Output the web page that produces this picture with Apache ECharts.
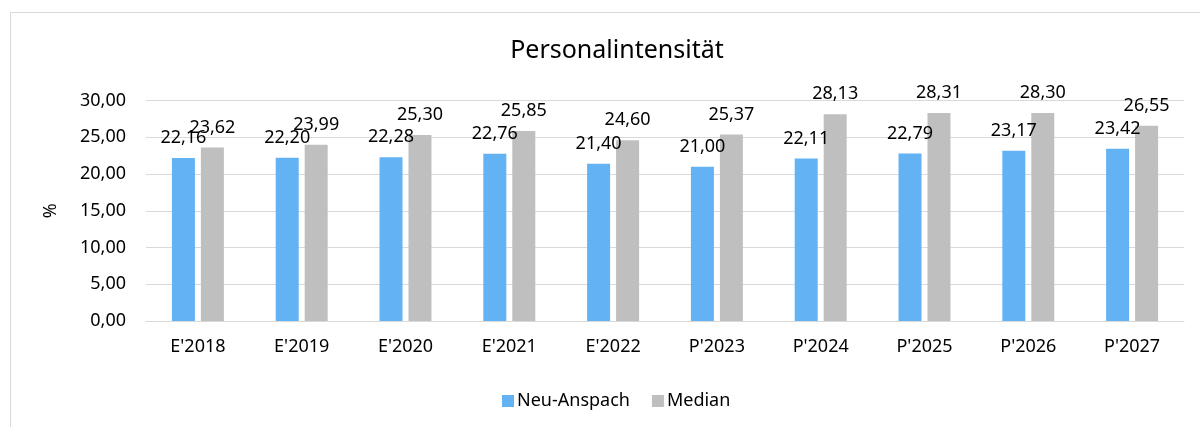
<!DOCTYPE html>
<html>
<head>
    <meta charset="utf-8">
    <title>Personalintensität</title>
    <script src="https://cdn.jsdelivr.net/npm/echarts@6/dist/echarts.min.js"></script>
    <style>
        body { margin: 0; background: #fff; }
        #main { width: 1200px; height: 427px; }
    </style>
</head>
<body>
    <div id="main"></div>
    <script type="text/javascript">
        // data
        var categories = ["E'2018", "E'2019", "E'2020", "E'2021", "E'2022", "P'2023", "P'2024", "P'2025", "P'2026", "P'2027"];
        var neuAnspach = [22.16, 22.20, 22.28, 22.76, 21.40, 21.00, 22.11, 22.79, 23.17, 23.42];
        var median = [23.62, 23.99, 25.30, 25.85, 24.60, 25.37, 28.13, 28.31, 28.30, 26.55];

        var font = 'Noto Sans';
        function fmt(v) { return v.toFixed(2).replace('.', ','); }

        var myChart = echarts.init(document.getElementById('main'));

        var labelCfg = {
            show: true,
            position: 'top',
            distance: 11,
            color: '#000',
            fontFamily: font,
            fontSize: 18,
            formatter: function (p) { return fmt(p.value); }
        };

        var option = {
            animation: false,
            graphic: [{
                type: 'rect',
                shape: { x: 10.5, y: 12.5, width: 1220, height: 500 },
                style: { fill: 'none', stroke: '#d9d9d9', lineWidth: 1 },
                silent: true
            }],
            title: {
                text: 'Personalintensität',
                left: 612,
                top: 33,
                textAlign: 'center',
                textStyle: { fontFamily: font, fontSize: 25, fontWeight: 'normal', color: '#000' }
            },
            legend: {
                data: ['Neu-Anspach', 'Median'],
                left: 497,
                top: 387,
                itemWidth: 12,
                itemHeight: 12,
                itemGap: 22,
                icon: 'rect',
                textStyle: { fontFamily: font, fontSize: 18, color: '#000', padding: [0, 0, 0, -2] }
            },
            grid: { left: 146, right: 16, top: 100.5, bottom: 106, containLabel: false },
            xAxis: {
                type: 'category',
                data: categories,
                axisLine: { lineStyle: { color: '#d9d9d9' } },
                axisTick: { show: false },
                axisLabel: { color: '#000', fontFamily: font, fontSize: 18, margin: 17 }
            },
            yAxis: {
                type: 'value',
                min: 0,
                max: 30,
                interval: 5,
                name: '%',
                nameLocation: 'middle',
                nameGap: 86,
                nameRotate: 90,
                nameTextStyle: { color: '#000', fontFamily: font, fontSize: 18 },
                axisLine: { show: false },
                axisTick: { show: false },
                splitLine: { lineStyle: { color: '#d9d9d9' } },
                axisLabel: { color: '#000', fontFamily: font, fontSize: 18, margin: 20, formatter: fmt }
            },
            series: [{
                name: 'Neu-Anspach',
                type: 'bar',
                data: neuAnspach,
                barWidth: 23,
                barGap: '26%',
                itemStyle: { color: '#63b3f4' },
                label: labelCfg
            }, {
                name: 'Median',
                type: 'bar',
                data: median,
                barWidth: 23,
                itemStyle: { color: '#bfbfbf' },
                label: labelCfg
            }]
        };

        myChart.setOption(option);
    </script>
</body>
</html>
